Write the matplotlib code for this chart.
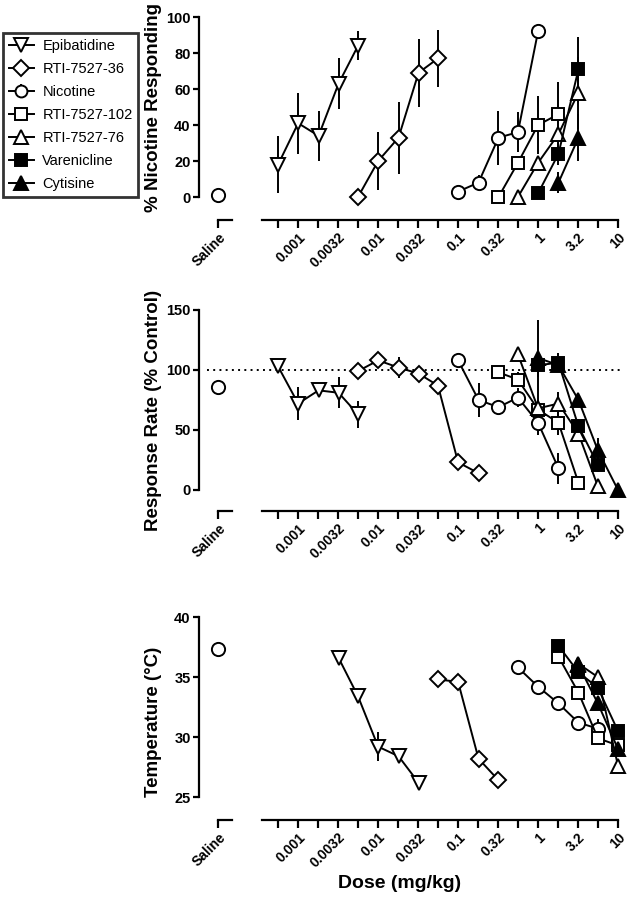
import numpy as np
import matplotlib
matplotlib.use("Agg")
import matplotlib.pyplot as plt
from matplotlib.spines import Spine
from matplotlib.ticker import FixedLocator, NullLocator

plt.rcParams["font.family"] = ["Liberation Sans", "DejaVu Sans"]
plt.rcParams["font.weight"] = "bold"

# x axis: doses in mg/kg, saline sits on its own short axis piece
saline_dose = 1e-4
dose_labels = ["Saline", "", "0.001", "", "0.0032", "", "0.01", "", "0.032", "",
               "0.1", "", "0.32", "", "1", "", "3.2", "", "10"]

# --- % nicotine responding ---
sal_drug = 1
epi_dose_a = [0.00056, 0.001, 0.0018, 0.0032, 0.0056]
epi_drug = [18, 41, 34, 63, 84]
epi_drug_err = [16, 17, 14, 14, 8]
r36_dose_a = [0.0056, 0.01, 0.018, 0.032, 0.056]
r36_drug = [0, 20, 33, 69, 77]
r36_drug_err = [0, 16, 20, 19, 16]
nic_dose_a = [0.1, 0.18, 0.32, 0.56, 1.0]
nic_drug = [3, 8, 33, 36, 92]
nic_drug_err = [0, 4, 15, 11, 0]
r102_dose_a = [0.32, 0.56, 1.0, 1.8]
r102_drug = [0, 19, 40, 46]
r102_drug_err = [0, 3, 16, 18]
r76_dose_a = [0.56, 1.0, 1.8, 3.2]
r76_drug = [0, 19, 35, 58]
r76_drug_err = [0, 0, 0, 20]
var_dose_a = [1.0, 1.8, 3.2]
var_drug = [2, 24, 71]
var_drug_err = [0, 6, 18]
cyt_dose_a = [1.8, 3.2]
cyt_drug = [8, 33]
cyt_drug_err = [6, 13]

# --- response rate (% control) ---
sal_rate = 86
epi_dose_b = [0.00056, 0.001, 0.0018, 0.0032, 0.0056]
epi_rate = [103, 72, 83, 81, 63]
epi_rate_err = [3, 14, 5, 13, 11]
r36_dose_b = [0.0056, 0.01, 0.018, 0.032, 0.056, 0.1, 0.18]
r36_rate = [99, 108, 102, 97, 87, 23, 14]
r36_rate_err = [0, 0, 9, 5, 0, 0, 0]
nic_dose_b = [0.1, 0.18, 0.32, 0.56, 1.0, 1.8]
nic_rate = [108, 75, 69, 77, 56, 18]
nic_rate_err = [0, 14, 6, 8, 10, 13]
r102_dose_b = [0.32, 0.56, 1.0, 1.8, 3.2]
r102_rate = [98, 92, 67, 56, 6]
r102_rate_err = [0, 6, 8, 10, 0]
r76_dose_b = [0.56, 1.0, 1.8, 3.2, 5.6]
r76_rate = [113, 68, 72, 47, 3]
r76_rate_err = [0, 10, 10, 5, 0]
var_dose_b = [1.0, 1.8, 3.2, 5.6]
var_rate = [104, 106, 53, 21]
var_rate_err = [10, 8, 6, 6]
cyt_dose_b = [1.0, 1.8, 3.2, 5.6, 10]
cyt_rate = [110, 104, 75, 33, 0]
cyt_rate_err = [32, 5, 5, 10, 0]

# --- temperature ---
sal_temp = 37.3
epi_dose_c = [0.0032, 0.0056, 0.01, 0.018, 0.032]
epi_temp = [36.6, 33.4, 29.2, 28.4, 26.2]
epi_temp_err = [0, 0, 1.2, 0, 0]
r36_dose_c = [0.056, 0.1, 0.18, 0.32]
r36_temp = [34.8, 34.6, 28.2, 26.4]
r36_temp_err = [0, 0.6, 0, 0]
nic_dose_c = [0.56, 1.0, 1.8, 3.2, 5.6]
nic_temp = [35.8, 34.2, 32.8, 31.2, 30.7]
nic_temp_err = [0, 0, 0.6, 0, 0.8]
r102_dose_c = [1.8, 3.2, 5.6, 10]
r102_temp = [36.7, 33.7, 29.9, 29.3]
r102_temp_err = [0, 0, 0, 0]
r76_dose_c = [3.2, 5.6, 10]
r76_temp = [36.1, 35.0, 27.6]
r76_temp_err = [0, 0, 0]
var_dose_c = [1.8, 3.2, 5.6, 10]
var_temp = [37.6, 35.4, 34.1, 30.5]
var_temp_err = [0, 0, 0, 0]
cyt_dose_c = [3.2, 5.6, 10]
cyt_temp = [36.0, 32.8, 29.0]
cyt_temp_err = [0, 0, 0]

names = ["Epibatidine", "RTI-7527-36", "Nicotine", "RTI-7527-102",
         "RTI-7527-76", "Varenicline", "Cytisine"]
markers = {"Epibatidine": ("v", "white", 10.5),
           "RTI-7527-36": ("D", "white", 8.5),
           "Nicotine": ("o", "white", 9.5),
           "RTI-7527-102": ("s", "white", 9),
           "RTI-7527-76": ("^", "white", 10.5),
           "Varenicline": ("s", "black", 9),
           "Cytisine": ("^", "black", 10.5)}

panels = [
    dict(data=[(epi_dose_a, epi_drug, epi_drug_err), (r36_dose_a, r36_drug, r36_drug_err),
               (nic_dose_a, nic_drug, nic_drug_err), (r102_dose_a, r102_drug, r102_drug_err),
               (r76_dose_a, r76_drug, r76_drug_err), (var_dose_a, var_drug, var_drug_err),
               (cyt_dose_a, cyt_drug, cyt_drug_err)],
         saline=sal_drug, ylim=(0, 100), yticks=[0, 20, 40, 60, 80, 100],
         ylabel="% Nicotine Responding", rect=[0.3164, 0.7811, 0.6725, 0.2],
         offset=16.5, ylab_y=0.5),
    dict(data=[(epi_dose_b, epi_rate, epi_rate_err), (r36_dose_b, r36_rate, r36_rate_err),
               (nic_dose_b, nic_rate, nic_rate_err), (r102_dose_b, r102_rate, r102_rate_err),
               (r76_dose_b, r76_rate, r76_rate_err), (var_dose_b, var_rate, var_rate_err),
               (cyt_dose_b, cyt_rate, cyt_rate_err)],
         saline=sal_rate, ylim=(0, 150), yticks=[0, 50, 100, 150],
         ylabel="Response Rate (% Control)", rect=[0.3164, 0.4556, 0.6725, 0.2],
         offset=15, ylab_y=0.44),
    dict(data=[(epi_dose_c, epi_temp, epi_temp_err), (r36_dose_c, r36_temp, r36_temp_err),
               (nic_dose_c, nic_temp, nic_temp_err), (r102_dose_c, r102_temp, r102_temp_err),
               (r76_dose_c, r76_temp, r76_temp_err), (var_dose_c, var_temp, var_temp_err),
               (cyt_dose_c, cyt_temp, cyt_temp_err)],
         saline=sal_temp, ylim=(25, 40), yticks=[25, 30, 35, 40],
         ylabel="Temperature (°C)", rect=[0.3164, 0.1144, 0.6725, 0.2],
         offset=16.5, ylab_y=0.42),
]

fig = plt.figure(figsize=(6.29, 9.0), dpi=100)
handles = []

for i, p in enumerate(panels):
    ax = fig.add_axes(p["rect"])
    ax.set_xscale("log")
    ax.set_xlim(10 ** -4.24, 10 ** 1.05)
    ax.set_ylim(*p["ylim"])

    if i == 1:
        ax.axhline(100, xmin=0.02, xmax=1, color="black", ls=(0, (1, 2.2)), lw=1.4, zorder=1)

    ax.plot([saline_dose], [p["saline"]], "o", ms=9.5, mfc="white", mec="black",
            mew=1.4, clip_on=False, zorder=3)

    for name, (d, m, e) in zip(names, p["data"]):
        mk, fc, ms = markers[name]
        eb = ax.errorbar(d, m, yerr=e, fmt="-" + mk, color="black", mfc=fc, mec="black",
                         ms=ms, mew=1.4, lw=1.4, elinewidth=1.4, capsize=0,
                         clip_on=False, zorder=3, label=name)
        for art in eb.lines[2]:
            art.set_clip_on(False)
        if i == 0:
            handles.append(eb)

    # axes in the Prism look
    for s in ["top", "right"]:
        ax.spines[s].set_visible(False)
    ax.spines["left"].set_linewidth(1.6)
    ax.spines["bottom"].set_linewidth(1.6)
    ax.spines["bottom"].set_position(("outward", p["offset"]))
    ax.spines["bottom"].set_bounds(10 ** -3.45, 10)
    sal = Spine.linear_spine(ax, "bottom")
    sal.set_position(("outward", p["offset"]))
    sal.set_bounds(saline_dose, 10 ** -3.83)
    sal.set_linewidth(1.6)
    sal.set_edgecolor("black")
    ax.spines["saline"] = sal

    xt = [saline_dose] + list(10 ** np.arange(-3.25, 1.01, 0.25))
    ax.xaxis.set_major_locator(FixedLocator(xt))
    ax.xaxis.set_minor_locator(NullLocator())
    ax.set_xticklabels(dose_labels)
    plt.setp(ax.get_xticklabels(), rotation=45, ha="right", rotation_mode="anchor")
    ax.set_yticks(p["yticks"])
    ax.tick_params(axis="x", direction="out", length=5.5, width=1.6, labelsize=10, pad=2)
    ax.tick_params(axis="y", direction="out", length=4.5, width=1.6, labelsize=10.5, pad=1.5)

    ax.set_ylabel(p["ylabel"], fontsize=13.5, fontweight="bold")
    ax.yaxis.set_label_coords(-0.088, p["ylab_y"])

fig.text(400 / 629, 1 - 884 / 900, "Dose (mg/kg)", ha="center", va="center",
         fontsize=14, fontweight="bold")

leg = fig.legend(handles, names, loc="upper left", bbox_to_anchor=(3 / 629, 1 - 33 / 900),
                 frameon=True, fancybox=False, edgecolor="black", borderpad=0.4,
                 handlelength=1.7, handletextpad=0.6, labelspacing=0.62, borderaxespad=0,
                 prop={"weight": "normal", "size": 10.5}, markerscale=0.9)
leg.get_frame().set_linewidth(2)

fig.savefig("out.png", dpi=100)
